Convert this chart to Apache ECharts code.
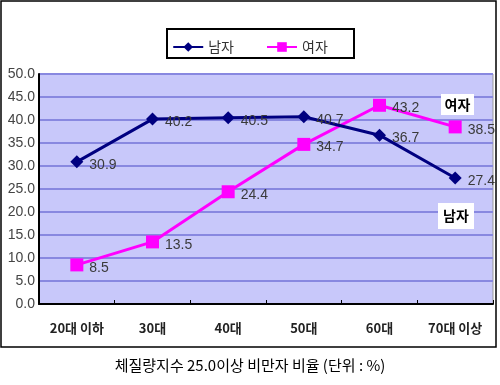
<!DOCTYPE html>
<html><head><meta charset="utf-8">
<script src="https://cdn.jsdelivr.net/npm/echarts@6/dist/echarts.min.js"></script>
<style>html,body{margin:0;padding:0;background:#fff}#c{width:500px;height:385px}</style>
</head><body><div id="c"></div>
<script>
const categories = ['20대 이하', '30대', '40대', '50대', '60대', '70대 이상'];
const maleValues = [30.9, 40.2, 40.5, 40.7, 36.7, 27.4];
const femaleValues = [8.5, 13.5, 24.4, 34.7, 43.2, 38.5];
const yTicks = { min: 0, max: 50, interval: 5 };
const caption = '체질량지수 25.0이상 비만자 비율 (단위 : %)';

const chart = echarts.init(document.getElementById('c'), null, { renderer: 'canvas' });
const labelStyle = {
  show: true, position: 'right', distance: 6, offset: [0, 3],
  color: '#3a3a3a', fontSize: 14, fontFamily: '"Liberation Sans Narrow", "Liberation Sans", Arial, sans-serif',
  formatter: p => p.value.toFixed(1)
};
chart.setOption({
  animation: false,
  backgroundColor: '#fff',
  grid: { left: 39, right: 7, top: 74, bottom: 81, show: true, backgroundColor: '#C8C8FA', borderColor: '#999', borderWidth: 1 },
  legend: {
    top: 35, left: 'center', itemGap: 32, itemWidth: 30, itemHeight: 12,
    textStyle: { fontSize: 14, color: '#333', fontFamily: '"Noto Sans CJK KR", sans-serif' },
    data: ['남자', '여자']
  },
  xAxis: {
    type: 'category', data: categories, boundaryGap: true,
    axisLine: { lineStyle: { color: '#000', width: 2 } },
    axisTick: { show: true, length: 4, inside: true, lineStyle: { color: '#000' } },
    axisLabel: { margin: 18, fontSize: 13, fontWeight: 'bold', color: '#222', fontFamily: '"Noto Sans CJK KR", sans-serif' }
  },
  yAxis: {
    type: 'value', min: yTicks.min, max: yTicks.max, interval: yTicks.interval,
    axisLine: { show: true, lineStyle: { color: '#000', width: 2 } },
    axisTick: { show: false },
    axisLabel: { margin: 4, fontSize: 14, color: '#444', formatter: v => v.toFixed(1), fontFamily: '"Liberation Sans Narrow", "Liberation Sans", Arial, sans-serif' },
    splitLine: { lineStyle: { color: '#8888E0', width: 2 } }
  },
  series: [
    { name: '남자', type: 'line', data: maleValues, symbol: 'diamond', symbolSize: 13,
      lineStyle: { color: '#000080', width: 3 }, itemStyle: { color: '#000080' }, label: labelStyle, z: 3 },
    { name: '여자', type: 'line', data: femaleValues, symbol: 'rect', symbolSize: 13,
      lineStyle: { color: '#FF00FF', width: 3 }, itemStyle: { color: '#FF00FF' }, label: labelStyle, z: 2 }
  ],
  graphic: [
    { type: 'rect', shape: { x: 1, y: 1, width: 495, height: 346 }, style: { fill: 'none', stroke: '#000', lineWidth: 1.5 }, z: -1, silent: true },
    { type: 'rect', shape: { x: 167, y: 29, width: 187, height: 29 }, style: { fill: 'none', stroke: '#000', lineWidth: 2 }, silent: true },
    { type: 'rect', shape: { x: 441, y: 94, width: 33, height: 21 }, style: { fill: '#fff' }, z: 10 },
    { type: 'text', x: 457.5, y: 104.5, style: { text: '여자', fill: '#000', font: 'bold 14px "Noto Sans CJK KR"', align: 'center', verticalAlign: 'middle' }, z: 11 },
    { type: 'rect', shape: { x: 438, y: 203, width: 36, height: 26 }, style: { fill: '#fff' }, z: 10 },
    { type: 'text', x: 456, y: 216, style: { text: '남자', fill: '#000', font: 'bold 14px "Noto Sans CJK KR"', align: 'center', verticalAlign: 'middle' }, z: 11 },
    { type: 'text', x: 250, y: 365, style: { text: caption, fill: '#000', font: '15px "Noto Sans CJK KR"', align: 'center', verticalAlign: 'middle' } }
  ]
});
</script></body></html>
